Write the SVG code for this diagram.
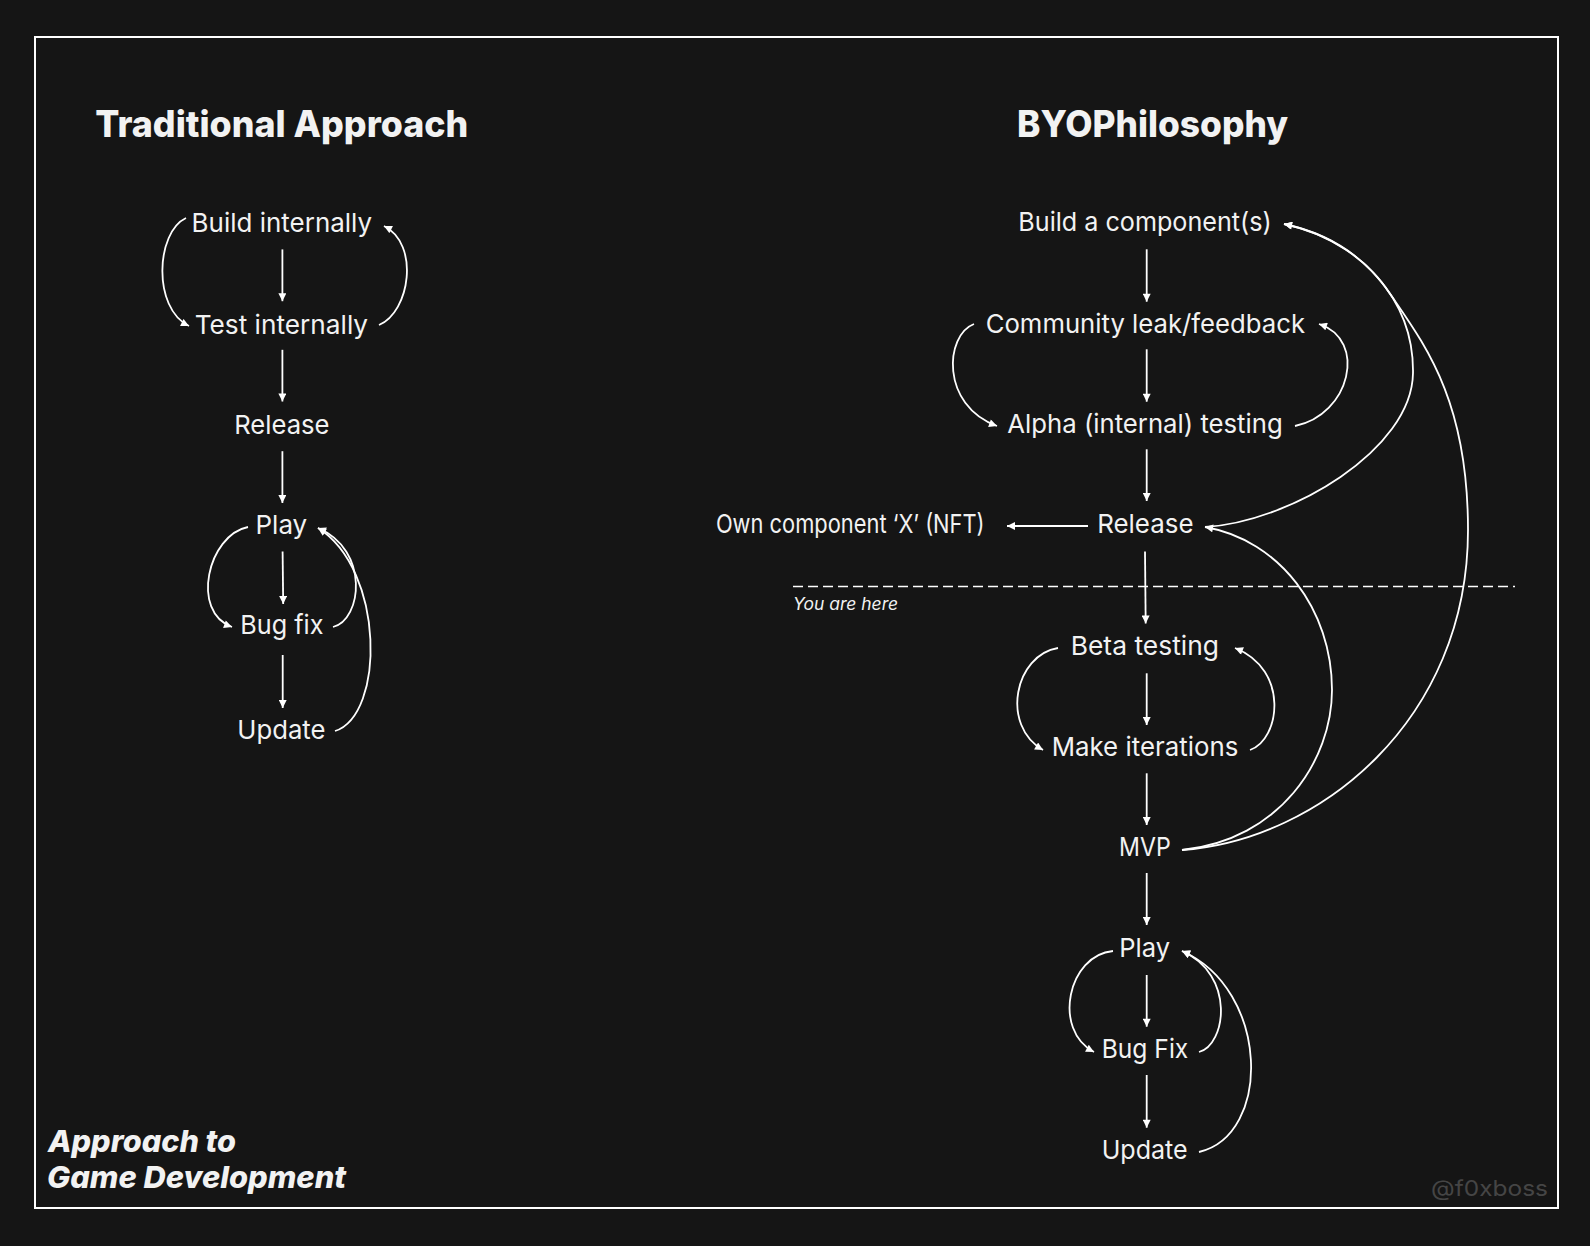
<svg xmlns="http://www.w3.org/2000/svg" width="1590" height="1246" viewBox="0 0 1590 1246">
<defs>
<marker id="ah" viewBox="0 0 10 10" refX="10" refY="5" markerWidth="9" markerHeight="8" markerUnits="userSpaceOnUse" orient="auto">
<path d="M0,0 L10,5 L0,10 z" fill="#ffffff"/>
</marker>
<style>
.t{font-family:Inter,"Liberation Sans",sans-serif;font-size:26px;fill:#f2f2f2}
.h{font-family:Inter,"Liberation Sans",sans-serif;font-size:37px;font-weight:800;fill:#f2f2f2}
.c{fill:none;stroke:#ffffff;stroke-width:1.8;marker-end:url(#ah)}
.bl{font-family:Inter,"Liberation Sans",sans-serif;font-size:30px;font-weight:800;font-style:italic;fill:#f2f2f2}
</style>
</defs>
<rect x="0" y="0" width="1590" height="1246" fill="#151515"/>
<rect x="35" y="37" width="1523" height="1171" fill="none" stroke="#ffffff" stroke-width="2"/>

<g id="titles">
<text class="h" x="95.3" y="137" textLength="373" lengthAdjust="spacingAndGlyphs">Traditional Approach</text>
<text class="h" x="1017" y="137" textLength="271" lengthAdjust="spacingAndGlyphs">BYOPhilosophy</text>
<text class="bl" x="48" y="1152" textLength="188" lengthAdjust="spacingAndGlyphs">Approach to</text>
<text class="bl" x="47" y="1188" textLength="299" lengthAdjust="spacingAndGlyphs">Game Development</text>
<text x="1431" y="1196" font-family="Inter,'Liberation Sans',sans-serif" font-size="22" fill="#454545" textLength="117" lengthAdjust="spacingAndGlyphs">@f0xboss</text>
</g>

<g id="trad-build"><text class="t" x="191.6" y="232" textLength="180.5" lengthAdjust="spacingAndGlyphs">Build internally</text></g>
<g id="trad-test"><text class="t" x="194.7" y="333.5" textLength="173.4" lengthAdjust="spacingAndGlyphs">Test internally</text></g>
<g id="trad-release"><text class="t" x="234.2" y="434" textLength="95.3" lengthAdjust="spacingAndGlyphs">Release</text></g>
<g id="trad-play"><text class="t" x="255.5" y="534" textLength="51.7" lengthAdjust="spacingAndGlyphs">Play</text></g>
<g id="trad-bugfix"><text class="t" x="240.3" y="634" textLength="83.2" lengthAdjust="spacingAndGlyphs">Bug fix</text></g>
<g id="trad-update"><text class="t" x="237.3" y="739" textLength="88.2" lengthAdjust="spacingAndGlyphs">Update</text></g>

<g id="byo-build"><text class="t" x="1018.3" y="231" textLength="253.4" lengthAdjust="spacingAndGlyphs">Build a component(s)</text></g>
<g id="byo-community"><text class="t" x="985.7" y="332.5" textLength="319.3" lengthAdjust="spacingAndGlyphs">Community leak/feedback</text></g>
<g id="byo-alpha"><text class="t" x="1007.3" y="433" textLength="275.4" lengthAdjust="spacingAndGlyphs">Alpha (internal) testing</text></g>
<g id="byo-own"><text class="t" x="715.9" y="533" textLength="268.7" lengthAdjust="spacingAndGlyphs">Own component ‘X’ (NFT)</text></g>
<g id="byo-release"><text class="t" x="1097.2" y="533" textLength="96.3" lengthAdjust="spacingAndGlyphs">Release</text></g>
<g id="byo-here">
<line x1="793" y1="586.5" x2="1515" y2="586.5" stroke="#ffffff" stroke-width="1.6" stroke-dasharray="10 5"/>
<text x="793" y="609.5" font-family="Inter,'Liberation Sans',sans-serif" font-size="17" font-style="italic" fill="#f2f2f2" textLength="105" lengthAdjust="spacingAndGlyphs">You are here</text>
</g>
<g id="byo-beta"><text class="t" x="1070.7" y="655" textLength="148.3" lengthAdjust="spacingAndGlyphs">Beta testing</text></g>
<g id="byo-iter"><text class="t" x="1051.7" y="756" textLength="186.6" lengthAdjust="spacingAndGlyphs">Make iterations</text></g>
<g id="byo-mvp"><text class="t" x="1119" y="856" textLength="51.7" lengthAdjust="spacingAndGlyphs">MVP</text></g>
<g id="byo-play"><text class="t" x="1119.3" y="957" textLength="50.7" lengthAdjust="spacingAndGlyphs">Play</text></g>
<g id="byo-bugfix"><text class="t" x="1101.7" y="1057.5" textLength="86.6" lengthAdjust="spacingAndGlyphs">Bug Fix</text></g>
<g id="byo-update"><text class="t" x="1101.7" y="1158.5" textLength="86" lengthAdjust="spacingAndGlyphs">Update</text></g>

<g id="connectors">
<path class="c" d="M282.4,249.4 L282.4,301.2"/>
<path class="c" d="M282.4,349.8 L282.4,401.5"/>
<path class="c" d="M282.4,451.2 L282.4,503"/>
<path class="c" d="M282.6,551.6 L283.2,604"/>
<path class="c" d="M282.7,655 L282.7,708"/>
<path class="c" d="M186,218 C156,232 152,308 189,326"/>
<path class="c" d="M379,325 C410,312 420,244 384,226"/>
<path class="c" d="M248,527 C208,535 190,612 232,627"/>
<path class="c" d="M333,627 C362,620 370,550 318,528"/>
<path class="c" d="M335,731 C385,715 385,570 318,528"/>
<path class="c" d="M1146.7,249.3 L1146.7,301.7"/>
<path class="c" d="M1146.7,349.3 L1146.7,401.7"/>
<path class="c" d="M1146.7,449.3 L1146.7,501"/>
<path class="c" d="M1088,526 L1007,526"/>
<path class="c" d="M1145,551.6 L1145.7,623.5"/>
<path class="c" d="M1146.7,673.3 L1146.7,725"/>
<path class="c" d="M1146.7,773.3 L1146.7,825"/>
<path class="c" d="M1146.7,873 L1146.7,925"/>
<path class="c" d="M1146.7,975 L1146.7,1026.7"/>
<path class="c" d="M1146.7,1075 L1146.7,1127.7"/>
<path class="c" d="M974,324 C945,335 940,405 997,426"/>
<path class="c" d="M1295,426 C1350,415 1368,340 1319,324"/>
<path class="c" d="M1058,648 C1015,655 1000,725 1043,750"/>
<path class="c" d="M1250,750 C1280,740 1290,670 1235,648"/>
<path class="c" d="M1113,951 C1068,955 1052,1030 1094,1052"/>
<path class="c" d="M1199,1052 C1226,1045 1236,975 1182,951"/>
<path class="c" d="M1199,1152 C1272,1135 1270,990 1182,951"/>
<path class="c" d="M1205,527 C1290,522 1412,450 1413,373 C1414,300 1360,240 1284,224"/>
<path class="c" d="M1182,850 C1280,840 1332,760 1332,690 C1332,610 1280,540 1205,527"/>
<path class="c" d="M1182,850 C1320,840 1468,720 1468,530 C1468,400 1425,345 1389.9,293.6 C1367.3,259 1329.6,233.6 1284,224"/>
</g>
</svg>
